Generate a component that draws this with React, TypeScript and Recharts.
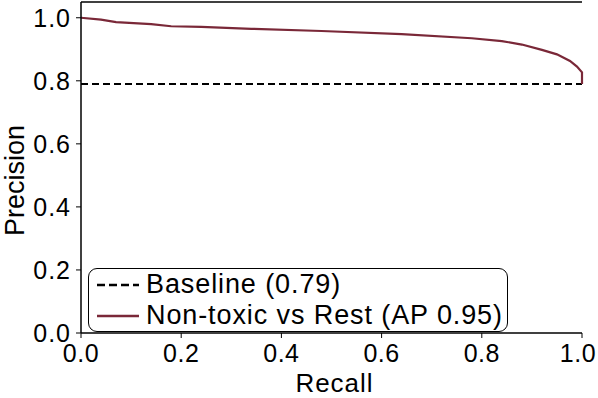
import { LineChart, Line, XAxis, YAxis, ReferenceLine, Label } from 'recharts';

const recall = [0, 0.04, 0.07, 0.14, 0.18, 0.24, 0.34, 0.48, 0.64, 0.78, 0.84, 0.88, 0.92, 0.95, 0.976, 0.99, 1.0, 1.0];
const precision = [1.0, 0.994, 0.986, 0.98, 0.973, 0.971, 0.965, 0.958, 0.948, 0.935, 0.926, 0.915, 0.898, 0.884, 0.863, 0.845, 0.827, 0.79];
const baseline = 0.79;
const yTicks = [0, 0.2, 0.4, 0.6, 0.8, 1.0];
const xTicks = [0, 0.2, 0.4, 0.6, 0.8, 1.0];
const legendLabels = ['Baseline (0.79)', 'Non-toxic vs Rest (AP 0.95)'];

const data = recall.map((r, i) => ({ recall: r, precision: precision[i] }));

const FONT = '"Liberation Sans", Arial, sans-serif';
const LINE_COLOR = '#7a2838';

// x tick that keeps the last label inside the picture
function XTick(props: any) {
  const { x, y, payload } = props;
  const tx = Math.min(x, 578);
  return (
    <text x={tx} y={y} dy="0.85em" textAnchor="middle" fill="#000" fontSize={25} fontFamily={FONT} letterSpacing={0.5}>
      {Number(payload.value).toFixed(1)}
    </text>
  );
}

function LegendBox() {
  return (
    <div
      style={{
        position: 'absolute',
        left: 88,
        top: 268,
        width: 420,
        height: 64,
        boxSizing: 'border-box',
        border: '1px solid #000',
        borderRadius: 9,
        background: '#fff',
        padding: '0 0 0 8px',
        fontFamily: FONT,
        fontSize: 27,
        letterSpacing: 0.9,
        lineHeight: '31px',
        color: '#000',
        whiteSpace: 'nowrap',
      }}
    >
      <div style={{ display: 'flex', alignItems: 'center' }}>
        <svg width={42} height={10} style={{ marginRight: 7 }}>
          <line x1={0} y1={5} x2={42} y2={5} stroke="#000" strokeWidth={2.5} strokeDasharray="8 4" />
        </svg>
        {legendLabels[0]}
      </div>
      <div style={{ display: 'flex', alignItems: 'center' }}>
        <svg width={42} height={10} style={{ marginRight: 7 }}>
          <line x1={0} y1={5} x2={42} y2={5} stroke={LINE_COLOR} strokeWidth={2.5} />
        </svg>
        {legendLabels[1]}
      </div>
    </div>
  );
}

export default function App() {
  return (
    <div style={{ position: 'absolute', left: 0, top: 0, width: 598, height: 398, background: '#fff' }}>
      <LineChart width={598} height={398} data={data} margin={{ top: 2, right: 16, bottom: 0, left: 25 }}>
        <XAxis
          dataKey="recall"
          type="number"
          domain={[0, 1]}
          ticks={xTicks}
          height={65}
          tickSize={5}
          tickMargin={3}
          stroke="#000"
          axisLine={{ stroke: '#000', strokeWidth: 1.5 }}
          tick={<XTick />}
        >
          <Label value="Recall" position="insideBottom" offset={6} dx={3} style={{ fill: '#000', fontSize: 26, fontFamily: FONT, letterSpacing: 1 }} />
        </XAxis>
        <YAxis
          type="number"
          domain={[0, 1.05]}
          ticks={yTicks}
          tickFormatter={(v: number) => v.toFixed(1)}
          width={56}
          tickSize={5}
          tickMargin={5}
          stroke="#000"
          axisLine={{ stroke: '#000', strokeWidth: 1.5 }}
          tick={{ fill: '#000', fontSize: 25, fontFamily: FONT, letterSpacing: 1 }}
        >
          <Label value="Precision" angle={-90} position="insideLeft" offset={-11} dy={13} style={{ fill: '#000', fontSize: 27, fontFamily: FONT, textAnchor: 'middle' }} />
        </YAxis>
        <ReferenceLine y={1.05} stroke="#000" strokeWidth={1.5} />
        <ReferenceLine y={baseline} stroke="#000" strokeWidth={2} strokeDasharray="7 4" />
        <Line
          dataKey="precision"
          type="linear"
          stroke={LINE_COLOR}
          strokeWidth={2.2}
          dot={false}
          isAnimationActive={false}
        />
      </LineChart>
      <LegendBox />
    </div>
  );
}
